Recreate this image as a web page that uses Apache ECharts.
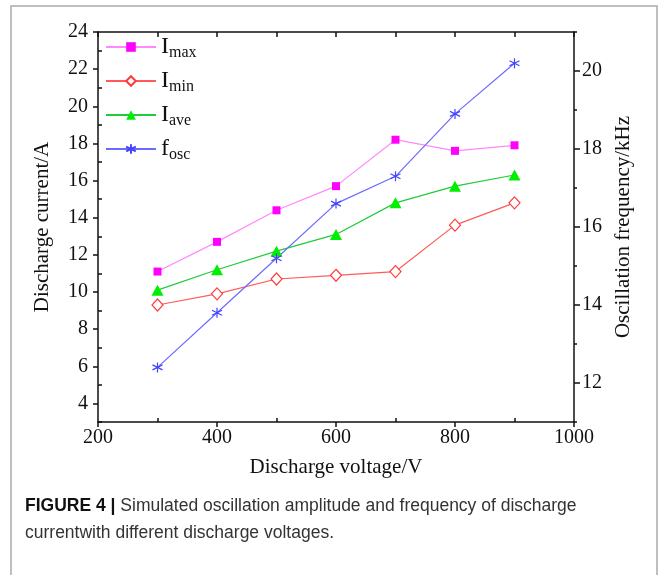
<!DOCTYPE html>
<html>
<head>
<meta charset="utf-8">
<script src="https://cdn.jsdelivr.net/npm/echarts@6/dist/echarts.min.js"></script>
<style>
  html, body { margin: 0; padding: 0; background: #fff; }
  #main { width: 664px; height: 575px; }
</style>
</head>
<body>
<div id="main"></div>
<script>
var myChart = echarts.init(document.getElementById('main'));

// 数据
var voltages = [300, 400, 500, 600, 700, 800, 900];
var iMax = [11.1, 12.7, 14.4, 15.7, 18.2, 17.6, 17.9];
var iMin = [9.3, 9.9, 10.7, 10.9, 11.1, 13.6, 14.8];
var iAve = [10.1, 11.2, 12.2, 13.1, 14.8, 15.7, 16.3];
var fOsc = [12.4, 13.8, 15.2, 16.6, 17.3, 18.9, 20.2];

// 刻度
var leftMajor = [4, 6, 8, 10, 12, 14, 16, 18, 20, 22, 24];
var leftMinor = [3, 5, 7, 9, 11, 13, 15, 17, 19, 21, 23];
var rightMajor = [12, 14, 16, 18, 20];
var rightMinor = [11, 13, 15, 17, 19, 21];
var xMinor = [300, 500, 700, 900];
var xTop = [200, 300, 400, 500, 600, 700, 800, 900, 1000];

function pairs(ys) {
    return voltages.map(function (x, i) { return [x, ys[i]]; });
}

var serif = 'Liberation Serif';
var asterisk = 'path://M5,0 L5,10 M0.7,2.5 L9.3,7.5 M0.7,7.5 L9.3,2.5';

var legendRich = {
    b: { fontFamily: serif, fontSize: 24, color: '#111', lineHeight: 24 },
    s: { fontFamily: serif, fontSize: 16, color: '#111', padding: [12, 0, 0, 0], lineHeight: 24 }
};
var legendNames = { Imax: 'max', Imin: 'min', Iave: 'ave', fosc: 'osc' };

myChart.setOption({
    animation: false,
    backgroundColor: '#fff',
    grid: { left: 98, right: 90, top: 32, bottom: 153, containLabel: false },
    legend: {
        orient: 'vertical',
        left: 100,
        top: 28,
        itemWidth: 50,
        itemHeight: 12,
        itemGap: 6,
        data: ['Imax', 'Imin', 'Iave', 'fosc'],
        formatter: function (name) {
            return '{b|' + name.charAt(0) + '}{s|' + legendNames[name] + '}';
        },
        textStyle: { rich: legendRich, padding: [0, 0, 0, 0] }
    },
    xAxis: [{
        type: 'value', min: 200, max: 1000, interval: 200,
        name: 'Discharge voltage/V', nameLocation: 'middle', nameGap: 35,
        nameTextStyle: { fontFamily: serif, fontSize: 21, color: '#111' },
        axisLine: { lineStyle: { color: '#111', width: 1.5 } },
        axisTick: { length: 5, lineStyle: { color: '#111', width: 1.5 } },
        axisLabel: { fontFamily: serif, fontSize: 20, color: '#111', margin: 6,
            formatter: function (v) { return String(v); } },
        splitLine: { show: false }
    }, {
        type: 'value', min: 200, max: 1000, position: 'bottom',
        axisLine: { show: false },
        axisTick: { inside: true, length: 4, customValues: xMinor, lineStyle: { color: '#111', width: 1.5 } },
        axisLabel: { show: false },
        splitLine: { show: false }
    }, {
        type: 'value', min: 200, max: 1000, position: 'top',
        axisLine: { lineStyle: { color: '#111', width: 1.5 } },
        axisTick: { inside: true, length: 5, customValues: xTop, lineStyle: { color: '#111', width: 1.5 } },
        axisLabel: { show: false },
        splitLine: { show: false }
    }],
    yAxis: [{
        type: 'value', min: 3, max: 24, position: 'left',
        name: 'Discharge current/A', nameLocation: 'middle', nameGap: 45, nameRotate: 90,
        nameTextStyle: { fontFamily: serif, fontSize: 21, color: '#111' },
        axisLine: { show: true, lineStyle: { color: '#111', width: 1.5 } },
        axisTick: { show: true, length: 5, customValues: leftMajor, lineStyle: { color: '#111', width: 1.5 } },
        axisLabel: { fontFamily: serif, fontSize: 20, color: '#111', margin: 10, customValues: leftMajor },
        splitLine: { show: false }
    }, {
        type: 'value', min: 11, max: 21, position: 'right',
        name: 'Oscillation frequency/kHz', nameLocation: 'middle', nameGap: 48, nameRotate: 90,
        nameTextStyle: { fontFamily: serif, fontSize: 21, color: '#111', verticalAlign: 'bottom' },
        axisLine: { show: true, lineStyle: { color: '#111', width: 1.5 } },
        axisTick: { show: true, length: 6, customValues: rightMajor, lineStyle: { color: '#111', width: 1.5 } },
        axisLabel: { fontFamily: serif, fontSize: 20, color: '#111', margin: 8, customValues: rightMajor },
        splitLine: { show: false }
    }, {
        type: 'value', min: 3, max: 24, position: 'left',
        axisLine: { show: false },
        axisTick: { show: true, inside: true, length: 4, customValues: leftMinor, lineStyle: { color: '#111', width: 1.5 } },
        axisLabel: { show: false },
        splitLine: { show: false }
    }, {
        type: 'value', min: 11, max: 21, position: 'right',
        axisLine: { show: false },
        axisTick: { show: true, length: 3, customValues: rightMinor, lineStyle: { color: '#111', width: 1.5 } },
        axisLabel: { show: false },
        splitLine: { show: false }
    }],
    series: [{
        name: 'Imax', type: 'line', yAxisIndex: 0, data: pairs(iMax),
        symbol: 'rect', symbolSize: 8,
        lineStyle: { color: '#ff88ff', width: 1.2 },
        itemStyle: { color: '#ff00ff' }
    }, {
        name: 'Imin', type: 'line', yAxisIndex: 0, data: pairs(iMin),
        symbol: 'diamond', symbolSize: [11, 12],
        lineStyle: { color: '#ff5a5a', width: 1.2 },
        itemStyle: { color: '#fff', borderColor: '#ff3b3b', borderWidth: 1.2 }
    }, {
        name: 'Iave', type: 'line', yAxisIndex: 0, data: pairs(iAve),
        symbol: 'triangle', symbolSize: [12, 11],
        lineStyle: { color: '#1fcc3a', width: 1.2 },
        itemStyle: { color: '#00ee00' }
    }, {
        name: 'fosc', type: 'line', yAxisIndex: 1, data: pairs(fOsc),
        symbol: asterisk, symbolSize: 10,
        lineStyle: { color: '#6b6bff', width: 1.2 },
        itemStyle: { color: 'none', borderColor: '#4444ff', borderWidth: 1.2 }
    }],
    graphic: [{
        type: 'rect', silent: true, z: -1,
        shape: { x: 11, y: 6, width: 646, height: 600 },
        style: { fill: 'none', stroke: '#aaa', lineWidth: 1.5 }
    }, {
        type: 'text', left: 25, top: 497, silent: true,
        style: {
            text: '{h|FIGURE 4 | }{t|Simulated oscillation amplitude and frequency of discharge}',
            rich: {
                h: { fontFamily: 'Liberation Sans', fontWeight: 'bold', fontSize: 17.5, fill: '#111' },
                t: { fontFamily: 'Liberation Sans', fontSize: 17.5, fill: '#333' }
            }
        }
    }, {
        type: 'text', left: 25, top: 524, silent: true,
        style: {
            text: 'currentwith different discharge voltages.',
            fontFamily: 'Liberation Sans', fontSize: 17.5, fill: '#333'
        }
    }]
});
</script>
</body>
</html>
